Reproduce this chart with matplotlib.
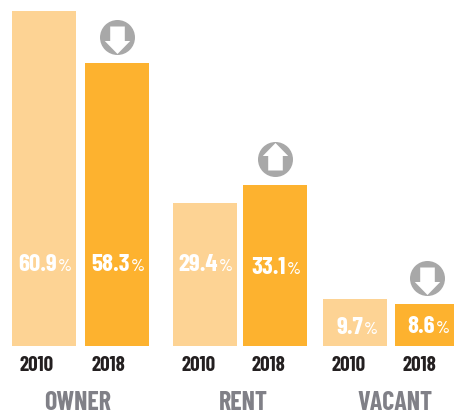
import matplotlib
matplotlib.use('Agg')
import matplotlib.pyplot as plt
from matplotlib.path import Path

# bar heights as drawn (first bar is drawn taller than its printed label)
bar_heights = [68.9, 58.3, 29.4, 33.1, 9.7, 8.6]
value_labels = ['60.9', '58.3', '29.4', '33.1', '9.7', '8.6']
years = ['2010', '2018', '2010', '2018', '2010', '2018']
groups = ['OWNER', 'RENT', 'VACANT']
changes = {1: 'down', 3: 'up', 5: 'down'}

# layout, in reference pixels
bar_x = [44, 117, 205, 275, 355, 427]
split_x = [57, 130, 218, 286, 363, 435]
value_y = [265, 265, 265, 268, 328, 327]
year_x = [36.5, 108, 198.5, 268.5, 348.5, 419]
group_x = [78, 243, 395]
base_px = 347.2
px_per_unit = 4.86

light = '#FDD394'
dark = '#FDB22F'
grey = '#A8A8A8'
font = ['Barlow Condensed', 'Liberation Sans', 'DejaVu Sans']


def py(y):
    return (base_px - y) / px_per_unit


def pt(px):
    return px * 72 / 100


# marker paths are y-up
up = Path([(-7.3, -11), (7.3, -11), (7.3, 3.5), (12.7, 3.5), (0, 16.5),
           (-12.7, 3.5), (-7.3, 3.5), (-7.3, -11)])
down = Path(up.vertices * [1, -1])

fig = plt.figure(figsize=(4.54, 4.14), dpi=100)
ax = fig.add_axes([0, 0, 1, 1])
ax.set_xlim(0, 454)
ax.set_ylim(py(414), py(0))
ax.axis('off')

ax.bar(bar_x, bar_heights, width=64, color=[light, dark] * 3, linewidth=0)

for i in range(6):
    ax.text(split_x[i], py(value_y[i]), value_labels[i], ha='right', va='center',
            color='white', fontsize=pt(25), fontweight='bold', family=font)
    ax.text(split_x[i] + 0.5, py(value_y[i] + 1.5), '%', ha='left', va='center',
            color='white', fontsize=pt(18), fontweight=500, family=font)
    ax.text(year_x[i], py(366), years[i], ha='center', va='center',
            color='#231F20', fontsize=pt(21), fontweight='bold', family=font)

for g, x in zip(groups, group_x):
    ax.text(x, py(403), g, ha='center', va='center', color='#808087',
            fontsize=pt(26), fontweight='bold', family=font)

for i, d in changes.items():
    y = bar_heights[i] + 26 / px_per_unit
    ax.plot([bar_x[i]], [y], marker='o', ms=pt(35), color=grey, mew=0, ls='none')
    ax.plot([bar_x[i]], [y], marker=down if d == 'down' else up, ms=pt(33),
            color='white', mew=0, ls='none')

fig.savefig('out.png', dpi=100)
